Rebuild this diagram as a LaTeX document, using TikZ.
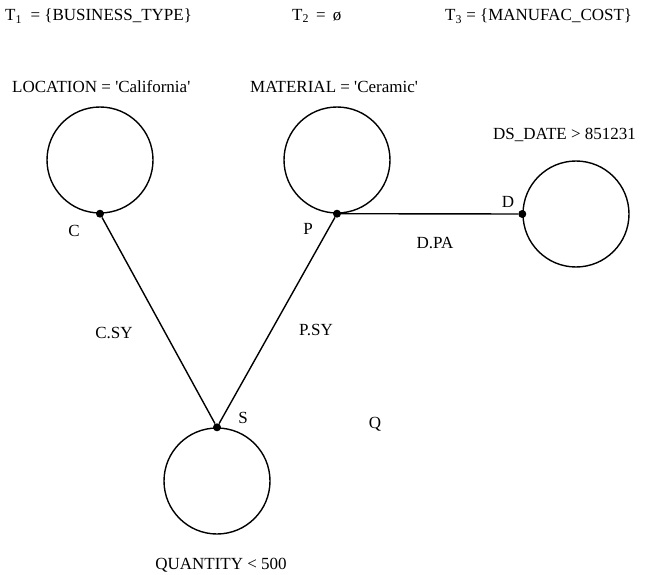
\documentclass[tikz,border=0pt]{standalone}
\usepackage{fontspec}
\setmainfont{Liberation Serif}
\begin{document}
\begin{tikzpicture}[x=1pt, y=-1pt,
    rel/.style={draw, circle, line width=1.4pt, minimum size=106pt, inner sep=0pt},
    joint/.style={fill, circle, minimum size=8pt, inner sep=0pt},
    lbl/.style={font=\fontsize{17}{20}\selectfont, inner sep=0pt},
    edgeline/.style={line width=1.4pt}]
  \useasboundingbox (0,0) rectangle (648,575);
  % header
  \node[lbl, anchor=west] (t1) at (5,16) {T\textsubscript{1} \ = \{BUSINESS\_TYPE\}};
  \node[lbl, anchor=west] (t2) at (292,16) {T\textsubscript{2} \,=\, ø};
  \node[lbl, anchor=west] (t3) at (445,16) {T\textsubscript{3} = \{MANUFAC\_COST\}};
  % relations
  \node[rel] (rc) at (100,160) {};
  \node[rel] (rp) at (337,160) {};
  \node[rel] (rd) at (576,214) {};
  \node[rel] (rs) at (217,481) {};
  \node[joint] (jc) at (rc.south) {};
  \node[joint] (jp) at (rp.south) {};
  \node[joint] (jd) at (rd.west) {};
  \node[joint] (js) at (rs.north) {};
  \draw[edgeline] (jc) -- (js);
  \draw[edgeline] (jp) -- (js);
  \draw[edgeline] (jp) -- (jd);
  % labels
  \node[lbl, anchor=west] (lloc) at (12,87) {LOCATION = \textquotesingle California\textquotesingle};
  \node[lbl, anchor=west] (lmat) at (250,87) {MATERIAL = \textquotesingle Ceramic\textquotesingle};
  \node[lbl, anchor=west] (ldate) at (493,135) {DS\_DATE > 851231};
  \node[lbl] (lqty) at (221,565) {QUANTITY < 500};
  \node[lbl] (lc) at (74,231) {C};
  \node[lbl] (lp) at (308,229) {P};
  \node[lbl] (ld) at (508,202) {D};
  \node[lbl] (ls) at (243,418) {S};
  \node[lbl] (lq) at (375,424) {Q};
  \node[lbl] (lcsy) at (114,333) {C.SY};
  \node[lbl] (lpsy) at (316,330) {P.SY};
  \node[lbl] (ldpa) at (435,243) {D.PA};
\end{tikzpicture}
\end{document}
